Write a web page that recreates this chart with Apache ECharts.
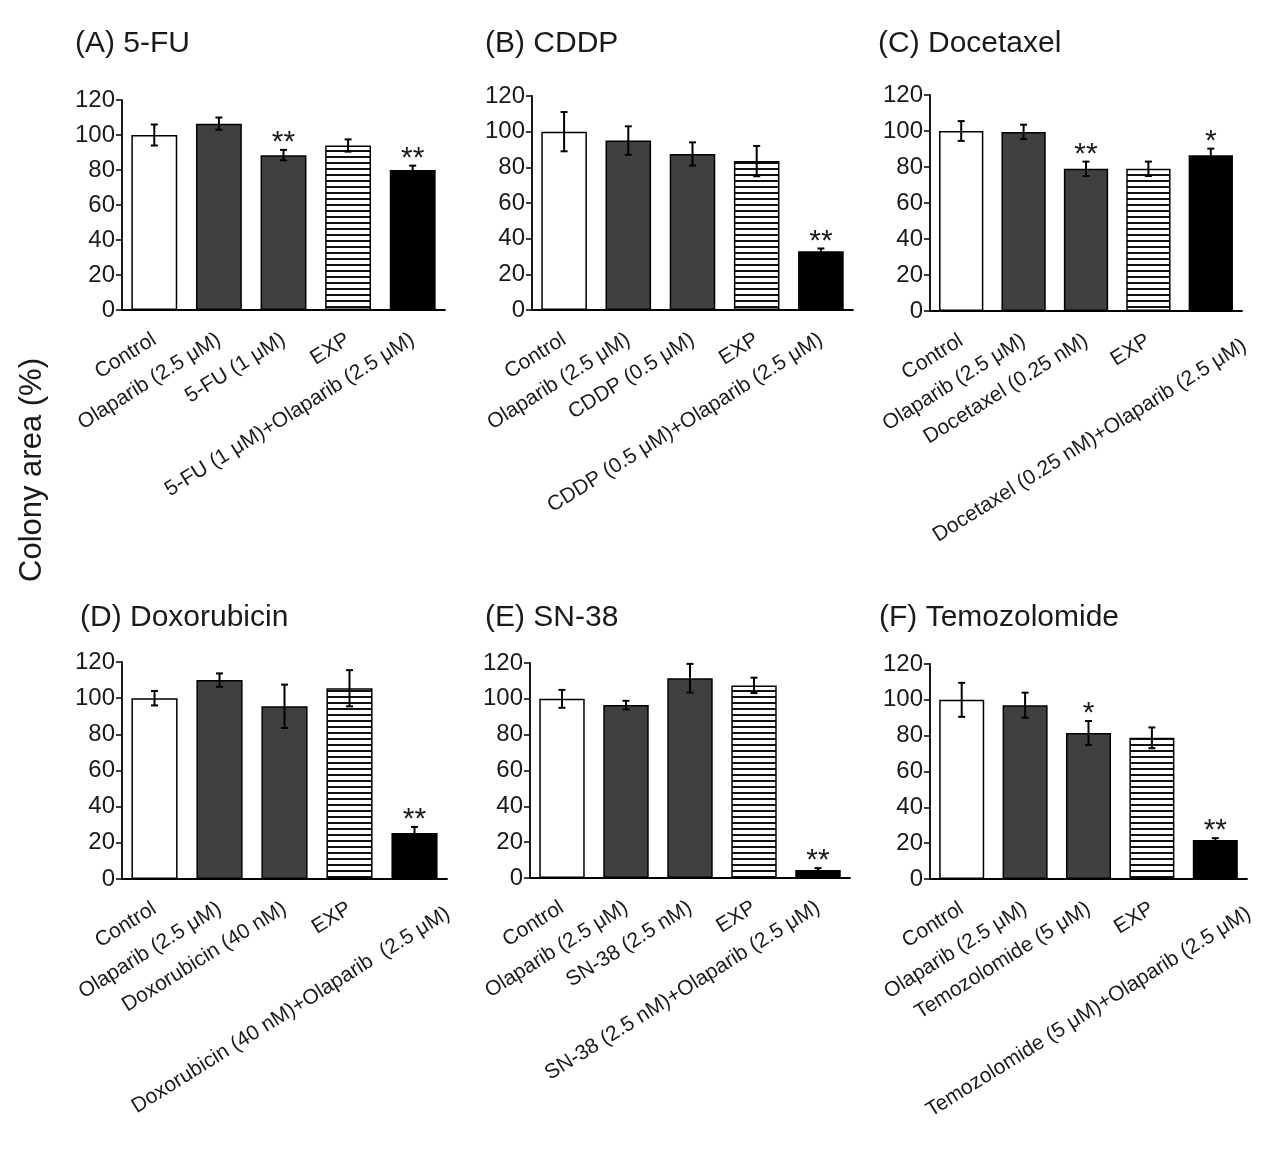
<!DOCTYPE html>
<html>
<head>
<meta charset="utf-8">
<script src="https://cdn.jsdelivr.net/npm/echarts@6/dist/echarts.min.js"></script>
<style>
  html, body { margin: 0; padding: 0; background: #fff; }
  #main { width: 1263px; height: 1152px; }
</style>
</head>
<body>
<div id="main"></div>
<script>
// data: mean colony area (%) and error (SD) for each panel
const titles = ['(A) 5-FU', '(B) CDDP', '(C) Docetaxel', '(D) Doxorubicin', '(E) SN-38', '(F) Temozolomide'];

const catsA = ['Control', 'Olaparib (2.5 μM)', '5-FU (1 μM)', 'EXP', '5-FU (1 μM)+Olaparib (2.5 μM)'];
const meanA = [100, 106.5, 88.5, 94, 80];
const errA = [6, 3.5, 3, 3.5, 2.5];
const starsA = ['', '', '**', '', '**'];

const catsB = ['Control', 'Olaparib (2.5 μM)', 'CDDP (0.5 μM)', 'EXP', 'CDDP (0.5 μM)+Olaparib (2.5 μM)'];
const meanB = [100, 95, 87.5, 83.5, 33];
const errB = [11, 8, 6.5, 8.5, 1.5];
const starsB = ['', '', '', '', '**'];

const catsC = ['Control', 'Olaparib (2.5 μM)', 'Docetaxel (0.25 nM)', 'EXP', 'Docetaxel (0.25 nM)+Olaparib (2.5 μM)'];
const meanC = [100, 99.5, 79, 79, 86.5];
const errC = [5.5, 4, 4, 4, 3.7];
const starsC = ['', '', '**', '', '*'];

const catsD = ['Control', 'Olaparib (2.5 μM)', 'Doxorubicin (40 nM)', 'EXP', 'Doxorubicin (40 nM)+Olaparib  (2.5 μM)'];
const meanD = [100, 110, 95.5, 105.5, 25.5];
const errD = [4, 3.7, 12, 10, 3.3];
const starsD = ['', '', '', '', '**'];

const catsE = ['Control', 'Olaparib (2.5 μM)', 'SN-38 (2.5 nM)', 'EXP', 'SN-38 (2.5 nM)+Olaparib (2.5 μM)'];
const meanE = [100, 96.5, 111.5, 107.5, 4.5];
const errE = [5, 2.4, 8, 4.3, 1];
const starsE = ['', '', '', '', '**'];

const catsF = ['Control', 'Olaparib (2.5 μM)', 'Temozolomide (5 μM)', 'EXP', 'Temozolomide (5 μM)+Olaparib (2.5 μM)'];
const meanF = [100, 97, 81.5, 78.8, 21.8];
const errF = [9.5, 7, 6.7, 5.8, 1];
const starsF = ['', '', '*', '', '**'];

const yTicks = [0, 20, 40, 60, 80, 100, 120];

const panels = [
  { cats: catsA, mean: meanA, err: errA, stars: starsA },
  { cats: catsB, mean: meanB, err: errB, stars: starsB },
  { cats: catsC, mean: meanC, err: errC, stars: starsC },
  { cats: catsD, mean: meanD, err: errD, stars: starsD },
  { cats: catsE, mean: meanE, err: errE, stars: starsE },
  { cats: catsF, mean: meanF, err: errF, stars: starsF }
];

// grid boxes (px)
const grids = [
  { left: 122, top: 100, width: 323, height: 210 },
  { left: 532, top: 96, width: 321, height: 214 },
  { left: 930, top: 95, width: 312, height: 216 },
  { left: 122, top: 662, width: 325, height: 217 },
  { left: 530, top: 663, width: 320, height: 215 },
  { left: 930, top: 664, width: 317, height: 215 }
];
const titlePos = [[70, 24], [480, 24], [873, 24], [75, 598], [480, 598], [874, 598]];
// the longest labels in C, D, F sit further right in the original
const longShift = [false, false, true, true, false, true];

// horizontal stripe pattern for EXP bars
const stripe = document.createElement('canvas');
stripe.width = 8; stripe.height = 6;
const sctx = stripe.getContext('2d');
sctx.fillStyle = '#fff'; sctx.fillRect(0, 0, 8, 6);
sctx.fillStyle = '#111'; sctx.fillRect(0, 0, 8, 2);

const fills = ['#ffffff', '#404040', '#404040', { image: stripe, repeat: 'repeat' }, '#000000'];
const font = 'Liberation Sans, Arial, sans-serif';

const chart = echarts.init(document.getElementById('main'));

function catItems(cats, shift) {
  return cats.map((c, k) => {
    if (k !== cats.length - 1 || !shift) return c;
    return { value: c, textStyle: { padding: [0, -26, 0, 0], lineHeight: 22 } };
  });
}

const option = {
  backgroundColor: '#fff',
  animation: false,
  title: titles.map((t, i) => ({
    text: t,
    left: titlePos[i][0],
    top: titlePos[i][1],
    textStyle: { fontSize: 30, fontWeight: 'normal', color: '#1a1a1a', fontFamily: font }
  })),
  graphic: [{
    type: 'text',
    x: 32, y: 470,
    rotation: Math.PI / 2,
    style: {
      text: 'Colony area (%)',
      fontSize: 31, fontFamily: font, fill: '#1a1a1a',
      align: 'center', verticalAlign: 'middle'
    }
  }],
  grid: grids,
  xAxis: panels.map((p, i) => ({
    type: 'category',
    gridIndex: i,
    data: catItems(p.cats, longShift[i]),
    axisLine: { lineStyle: { color: '#000', width: 1.8 } },
    axisTick: { alignWithLabel: true, length: 6, lineStyle: { color: '#000', width: 1.5 } },
    axisLabel: {
      rotate: 32, interval: 0, fontSize: 21, color: '#1a1a1a', fontFamily: font, margin: 28,
      formatter: (v, k) => (longShift[i] && k === p.cats.length - 1 ? '\n\n' + v : v)
    }
  })),
  yAxis: panels.map((p, i) => ({
    type: 'value',
    gridIndex: i,
    min: yTicks[0], max: yTicks[yTicks.length - 1], interval: 20,
    axisLine: { show: true, lineStyle: { color: '#000', width: 1.8 } },
    axisTick: { show: true, length: 6, lineStyle: { color: '#000', width: 1.5 } },
    splitLine: { show: false },
    axisLabel: { fontSize: 24, color: '#1a1a1a', fontFamily: font, margin: 7 }
  })),
  series: []
};

panels.forEach((p, i) => {
  option.series.push({
    type: 'bar',
    xAxisIndex: i, yAxisIndex: i,
    barCategoryGap: '29%',
    data: p.mean.map((v, k) => ({
      value: v,
      itemStyle: { color: fills[k], borderColor: '#000', borderWidth: 1.5 }
    }))
  });
  option.series.push({
    type: 'custom',
    xAxisIndex: i, yAxisIndex: i,
    z: 10,
    data: p.mean.map((v, k) => [k, v, p.err[k]]),
    renderItem: function (params, api) {
      const x = api.value(0), m = api.value(1), e = api.value(2);
      const top = api.coord([x, m + e]);
      const bot = api.coord([x, m - e]);
      const cap = 3.5;
      const ls = { stroke: '#000', lineWidth: 2 };
      const children = [
        { type: 'line', shape: { x1: top[0], y1: top[1], x2: bot[0], y2: bot[1] }, style: ls },
        { type: 'line', shape: { x1: top[0] - cap, y1: top[1], x2: top[0] + cap, y2: top[1] }, style: ls },
        { type: 'line', shape: { x1: bot[0] - cap, y1: bot[1], x2: bot[0] + cap, y2: bot[1] }, style: ls }
      ];
      const star = p.stars[params.dataIndex];
      if (star) {
        children.push({
          type: 'text',
          x: top[0], y: top[1] + 8,
          style: {
            text: star, fontSize: 30, fontFamily: font, fill: '#1a1a1a',
            align: 'center', verticalAlign: 'bottom'
          }
        });
      }
      return { type: 'group', children: children };
    }
  });
});

option && chart.setOption(option);
</script>
</body>
</html>
